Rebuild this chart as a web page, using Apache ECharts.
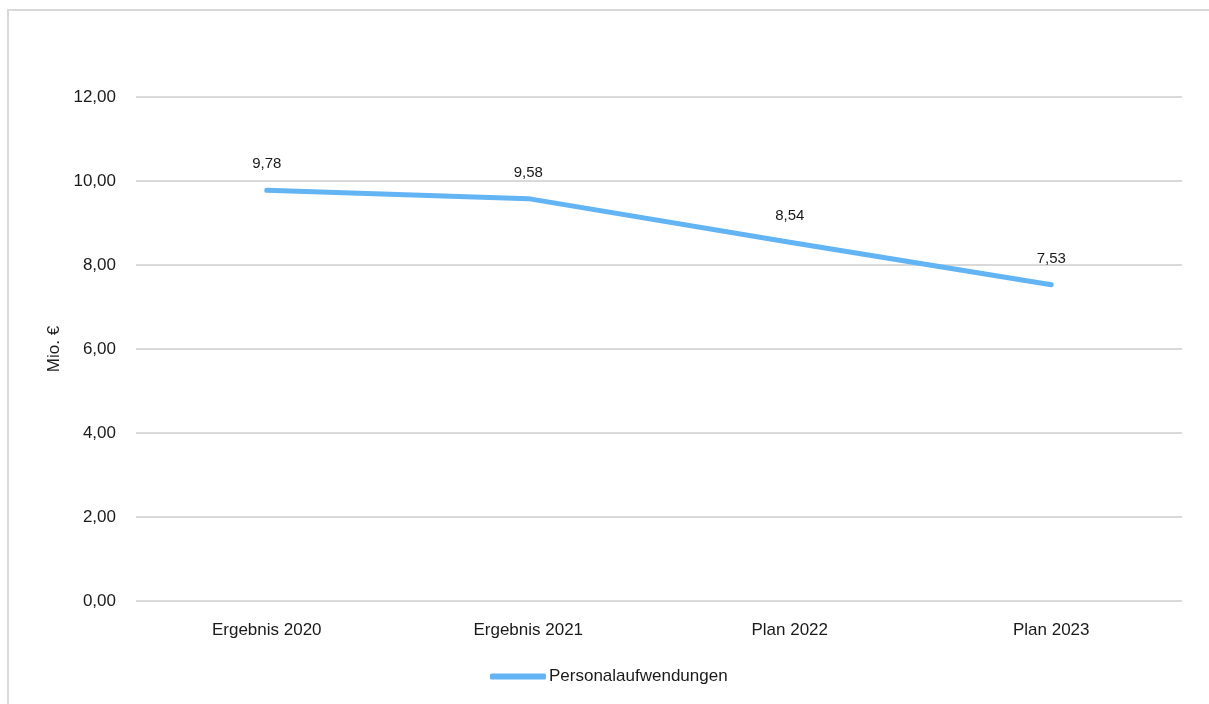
<!DOCTYPE html>
<html>
<head>
<meta charset="utf-8">
<script src="https://cdn.jsdelivr.net/npm/echarts@6/dist/echarts.min.js"></script>
<style>
  html, body { margin: 0; padding: 0; background: #ffffff; }
  #chart { width: 1209px; height: 704px; }
</style>
</head>
<body>
<div id="chart"></div>
<script>
// Personalaufwendungen in Mio. €
const categories = ['Ergebnis 2020', 'Ergebnis 2021', 'Plan 2022', 'Plan 2023'];
const personalaufwendungen = [9.78, 9.58, 8.54, 7.53];
const seriesName = 'Personalaufwendungen';
const axisTitle = 'Mio. €';

const FONT = '"Liberation Sans", Arial, sans-serif';
const LINE_COLOR = '#63b4f4';
const fmt = v => v.toFixed(2).replace('.', ',');

const chart = echarts.init(document.getElementById('chart'), null, { renderer: 'canvas' });
chart.setOption({
  backgroundColor: '#ffffff',
  animation: false,
  textStyle: { fontFamily: FONT, color: '#1a1a1a' },
  graphic: [{
    type: 'rect',
    silent: true,
    shape: { x: 8, y: 10, width: 1400, height: 900 },
    style: { fill: 'none', stroke: '#d9d9d9', lineWidth: 2 }
  }],
  grid: { left: 136, right: 27, top: 97, bottom: 103, containLabel: false },
  legend: {
    top: 663,
    left: 485,
    itemWidth: 56,
    itemHeight: 6,
    itemGap: 4,
    icon: 'roundRect',
    itemStyle: { color: LINE_COLOR, opacity: 1 },
    textStyle: { fontFamily: FONT, fontSize: 17, color: '#1a1a1a', padding: [0, 0, 0, -2] },
    data: [seriesName]
  },
  xAxis: {
    type: 'category',
    data: categories,
    boundaryGap: true,
    axisLine: { show: false },
    axisTick: { show: false },
    axisLabel: { fontFamily: FONT, fontSize: 17, color: '#1a1a1a', margin: 21 }
  },
  yAxis: {
    type: 'value',
    min: 0,
    max: 12,
    interval: 2,
    name: axisTitle,
    nameLocation: 'middle',
    nameGap: 66,
    nameRotate: 90,
    nameTextStyle: { fontFamily: FONT, fontSize: 17, color: '#1a1a1a' },
    axisLine: { show: false },
    axisTick: { show: false },
    splitLine: { lineStyle: { color: '#d9d9d9', width: 2 } },
    axisLabel: { fontFamily: FONT, fontSize: 17, color: '#1a1a1a', margin: 20, formatter: v => fmt(v) }
  },
  series: [{
    name: seriesName,
    type: 'line',
    data: personalaufwendungen,
    symbol: 'circle',
    symbolSize: 1,
    showSymbol: true,
    lineStyle: { color: LINE_COLOR, width: 5, cap: 'round', join: 'round' },
    itemStyle: { color: LINE_COLOR },
    label: {
      show: true,
      position: 'top',
      distance: 18,
      fontFamily: FONT,
      fontSize: 15,
      color: '#1a1a1a',
      formatter: p => fmt(p.value)
    }
  }]
});
</script>
</body>
</html>
